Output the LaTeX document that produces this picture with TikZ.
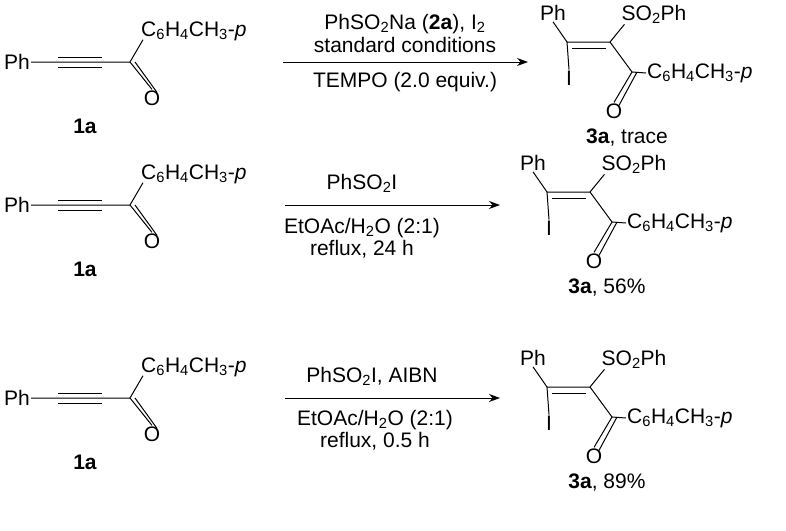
\documentclass[tikz,border=0pt]{standalone}
\usepackage{fontspec}
\setmainfont{Liberation Sans}
\usetikzlibrary{arrows.meta}
\newcommand\sbs[1]{\textsubscript{#1}}
\tikzset{lbl/.style={inner sep=1pt,font=\fontsize{21}{24}\selectfont},
  bond/.style={line width=1pt},
  rxn/.style={line width=1pt,-{Stealth[length=11pt,width=8pt]}}}
% reactant 1a, shifted down by #1, names end in #2
\newcommand\alkynone[2]{
  \begin{scope}[yshift=-#1]
  \node[lbl] (ph#2) at (17,62) {Ph};
  \coordinate (c#2) at (130,62);
  \node[lbl,anchor=west] (tol#2) at (140,31) {C\sbs{6}H\sbs{4}CH\sbs{3}-\textit{p}};
  \node[lbl] (o#2) at (152,98) {O};
  \node[lbl] (n#2) at (85,126) {\textbf{1a}};
  \draw[bond] (ph#2) -- (c#2) -- ([xshift=3pt,yshift=2pt]tol#2.south west);
  \draw[bond] (58,57) -- (102,57) (58,67) -- (102,67);
  \draw[bond] (c#2) -- (o#2.north);
  \draw[bond] ([xshift=5pt]c#2) -- ([xshift=5pt,yshift=-3pt]o#2.north);
  \end{scope}}
% product 3a, shifted by (#1,#2), names end in #3, caption #4
\newcommand\vinyl[4]{
  \begin{scope}[xshift=#1,yshift=-#2]
  \coordinate (a#3) at (567,42);
  \coordinate (b#3) at (610,42);
  \coordinate (k#3) at (632,72);
  \node[lbl] (pp#3) at (553,13) {Ph};
  \node[lbl] (so#3) at (654,14) {SO\sbs{2}Ph};
  \node[lbl] (i#3) at (569,78) {I};
  \node[lbl,anchor=west] (ar#3) at (646,73) {C\sbs{6}H\sbs{4}CH\sbs{3}-\textit{p}};
  \node[lbl] (ko#3) at (614,111) {O};
  \node[lbl] (cap#3) at (627,138) {#4};
  \draw[bond] (pp#3.south) -- (a#3) -- (b#3) -- ([xshift=4pt]so#3.south west);
  \draw[bond] (572,48) -- (606,48);
  \draw[bond] (a#3) -- (i#3.north);
  \draw[bond] (b#3) -- (k#3) -- (ar#3.west);
  \draw[bond] (k#3) -- (ko#3.north);
  \draw[bond] ([xshift=5pt]k#3) -- ([xshift=5pt,yshift=-3pt]ko#3.north);
  \end{scope}}
\begin{document}
\begin{tikzpicture}[x=1pt,y=-1pt]
  \useasboundingbox (0,0) rectangle (786,530);
  % top: radical trap
  \alkynone{0pt}{A}
  \coordinate (s1) at (283,62);
  \coordinate (e1) at (528,62);
  \draw[rxn] (s1) -- (e1);
  \node[lbl] (r1a) at (405,24) {PhSO\sbs{2}Na (\textbf{2a}), I\sbs{2}};
  \node[lbl] (r1b) at (405,45) {standard conditions};
  \node[lbl] (r1c) at (405,82) {TEMPO (2.0 equiv.)};
  \vinyl{0pt}{0pt}{A}{\textbf{3a}, trace}
  % middle
  \alkynone{143pt}{B}
  \coordinate (s2) at (285,205);
  \coordinate (e2) at (500,205);
  \draw[rxn] (s2) -- (e2);
  \node[lbl] (r2a) at (362,183) {PhSO\sbs{2}I};
  \node[lbl] (r2b) at (362,228) {EtOAc/H\sbs{2}O (2:1)};
  \node[lbl] (r2c) at (362,249) {reflux, 24 h};
  \vinyl{-20pt}{150pt}{B}{\textbf{3a}, 56\%}
  % bottom
  \alkynone{336pt}{C}
  \coordinate (s3) at (285,398);
  \coordinate (e3) at (500,398);
  \draw[rxn] (s3) -- (e3);
  \node[lbl] (r3a) at (372,376) {PhSO\sbs{2}I, AIBN};
  \node[lbl] (r3b) at (375,420) {EtOAc/H\sbs{2}O (2:1)};
  \node[lbl] (r3c) at (375,441) {reflux, 0.5 h};
  \vinyl{-20pt}{345pt}{C}{\textbf{3a}, 89\%}
\end{tikzpicture}
\end{document}
